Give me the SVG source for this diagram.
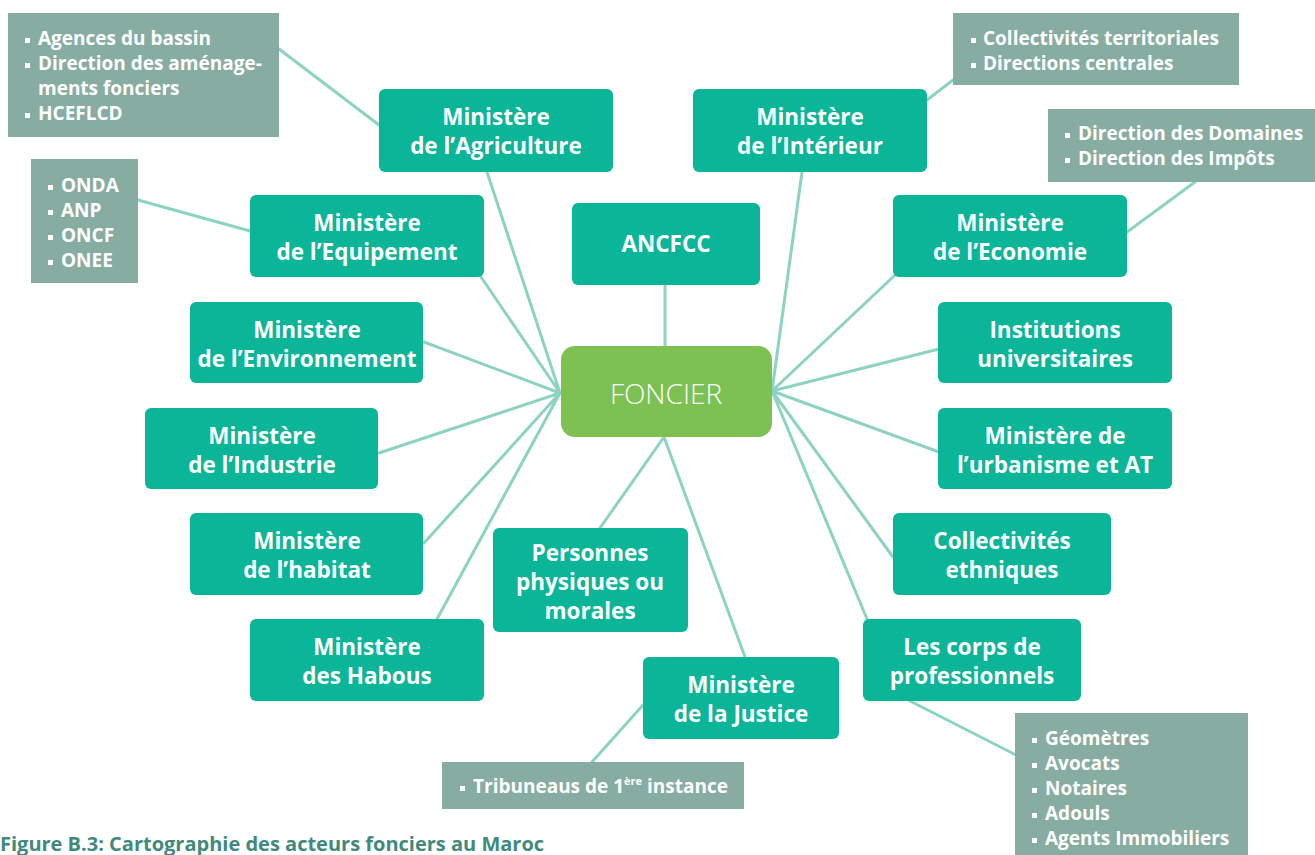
<svg xmlns="http://www.w3.org/2000/svg" width="1315" height="855" viewBox="0 0 1315 855">
<style>
.n{fill:#0ab598}
.g{fill:#87ada3}
.c{stroke:#8dd3c2;stroke-width:3;fill:none;stroke-linecap:round}
.t{font-family:"Open Sans","Liberation Sans",sans-serif;font-weight:bold;font-size:22.5px;fill:#fff;text-anchor:middle}
.l{font-family:"Open Sans","Liberation Sans",sans-serif;font-weight:bold;font-size:19px;fill:#fff}
.b{fill:#fff}
.cap{font-family:"Open Sans","Liberation Sans",sans-serif;font-weight:bold;font-size:20px;fill:#3f8a7d}
</style>
<rect width="1315" height="855" fill="#fff"/>
<g id="connectors">
<path class="c" d="M560 393L487 172M560 393L481 277M560 393L424 342M560 393L379 453M560 393L424 543M560 393L437 619"/>
<path class="c" d="M772 391L802 172M772 391L894 276M772 391L939 349M772 391L939 452M772 391L893 557M772 391L867 619"/>
<path class="c" d="M665 285L665 346M664 437L600 528M664 437L745 657"/>
<path class="c" d="M279 49L379 125M138 200L250 231M927 100L953 80M1127 232L1195 182M643 705L592 762M910 701L1016 755"/>
</g>
<g id="foncier"><rect x="561" y="346" width="211" height="91" rx="14" fill="#7dc153"/><text x="666" y="404" font-family="'Open Sans','Liberation Sans',sans-serif" font-weight="300" font-size="28" fill="#fff" text-anchor="middle">FONCIER</text></g>
<g id="agriculture"><rect class="n" x="379" y="89" width="234" height="83" rx="6"/><text class="t" x="496" y="125">Ministère</text><text class="t" x="496" y="154">de l’Agriculture</text></g>
<g id="interieur"><rect class="n" x="693" y="89" width="234" height="83" rx="6"/><text class="t" x="810" y="125">Ministère</text><text class="t" x="810" y="154">de l’Intérieur</text></g>
<g id="ancfcc"><rect class="n" x="572" y="203" width="188" height="82" rx="6"/><text class="t" x="666" y="252">ANCFCC</text></g>
<g id="equipement"><rect class="n" x="250" y="195" width="234" height="82" rx="6"/><text class="t" x="367" y="231">Ministère</text><text class="t" x="367" y="260">de l’Equipement</text></g>
<g id="economie"><rect class="n" x="893" y="195" width="234" height="82" rx="6"/><text class="t" x="1010" y="231">Ministère</text><text class="t" x="1010" y="260">de l’Economie</text></g>
<g id="environnement"><rect class="n" x="190" y="302" width="233" height="81" rx="6"/><text class="t" x="307" y="338">Ministère</text><text class="t" x="307" y="367">de l’Environnement</text></g>
<g id="institutions"><rect class="n" x="938" y="302" width="234" height="81" rx="6"/><text class="t" x="1055" y="338">Institutions</text><text class="t" x="1055" y="367">universitaires</text></g>
<g id="industrie"><rect class="n" x="145" y="408" width="233" height="81" rx="6"/><text class="t" x="262" y="444">Ministère</text><text class="t" x="262" y="473">de l’Industrie</text></g>
<g id="urbanisme"><rect class="n" x="938" y="408" width="234" height="81" rx="6"/><text class="t" x="1055" y="444">Ministère de</text><text class="t" x="1055" y="473">l’urbanisme et AT</text></g>
<g id="habitat"><rect class="n" x="190" y="513" width="233" height="82" rx="6"/><text class="t" x="307" y="549">Ministère</text><text class="t" x="307" y="578">de l’habitat</text></g>
<g id="collectivites"><rect class="n" x="893" y="513" width="218" height="82" rx="6"/><text class="t" x="1002" y="549">Collectivités</text><text class="t" x="1002" y="578">ethniques</text></g>
<g id="personnes"><rect class="n" x="493" y="528" width="195" height="104" rx="6"/><text class="t" x="590" y="561">Personnes</text><text class="t" x="590" y="590">physiques ou</text><text class="t" x="590" y="619">morales</text></g>
<g id="habous"><rect class="n" x="250" y="619" width="234" height="82" rx="6"/><text class="t" x="367" y="655">Ministère</text><text class="t" x="367" y="684">des Habous</text></g>
<g id="justice"><rect class="n" x="643" y="657" width="196" height="82" rx="6"/><text class="t" x="741" y="693">Ministère</text><text class="t" x="741" y="722">de la Justice</text></g>
<g id="corps"><rect class="n" x="863" y="619" width="218" height="82" rx="6"/><text class="t" x="972" y="655">Les corps de</text><text class="t" x="972" y="684">professionnels</text></g>
<g id="list-agriculture"><rect class="g" x="8" y="13" width="271" height="124"/>
<rect class="b" x="25" y="38" width="5" height="5"/><rect class="b" x="25" y="63" width="5" height="5"/><rect class="b" x="25" y="113" width="5" height="5"/>
<text class="l" x="38" y="45">Agences du bassin</text><text class="l" x="38" y="70">Direction des aménage-</text><text class="l" x="38" y="95">ments fonciers</text><text class="l" x="38" y="120">HCEFLCD</text></g>
<g id="list-equipement"><rect class="g" x="31" y="159" width="107" height="124"/>
<rect class="b" x="48" y="185" width="5" height="5"/><rect class="b" x="48" y="210" width="5" height="5"/><rect class="b" x="48" y="235" width="5" height="5"/><rect class="b" x="48" y="260" width="5" height="5"/>
<text class="l" x="61" y="192">ONDA</text><text class="l" x="61" y="217">ANP</text><text class="l" x="61" y="242">ONCF</text><text class="l" x="61" y="267">ONEE</text></g>
<g id="list-interieur"><rect class="g" x="953" y="13" width="286" height="72"/>
<rect class="b" x="971" y="38" width="5" height="5"/><rect class="b" x="971" y="63" width="5" height="5"/>
<text class="l" x="983" y="45">Collectivités territoriales</text><text class="l" x="983" y="70">Directions centrales</text></g>
<g id="list-economie"><rect class="g" x="1048" y="109" width="267" height="73"/>
<rect class="b" x="1065" y="133" width="5" height="5"/><rect class="b" x="1065" y="158" width="5" height="5"/>
<text class="l" x="1078" y="140">Direction des Domaines</text><text class="l" x="1078" y="165">Direction des Impôts</text></g>
<g id="list-justice"><rect class="g" x="442" y="762" width="302" height="47"/>
<rect class="b" x="460" y="786" width="5" height="5"/>
<text class="l" x="473" y="793">Tribuneaus de 1<tspan font-size="11" dy="-8">ère</tspan><tspan dy="8"> instance</tspan></text></g>
<g id="list-corps"><rect class="g" x="1015" y="713" width="233" height="142"/>
<rect class="b" x="1032" y="738" width="5" height="5"/><rect class="b" x="1032" y="763" width="5" height="5"/><rect class="b" x="1032" y="788" width="5" height="5"/><rect class="b" x="1032" y="813" width="5" height="5"/><rect class="b" x="1032" y="838" width="5" height="5"/>
<text class="l" x="1045" y="745">Géomètres</text><text class="l" x="1045" y="770">Avocats</text><text class="l" x="1045" y="795">Notaires</text><text class="l" x="1045" y="820">Adouls</text><text class="l" x="1045" y="845">Agents Immobiliers</text></g>
<text class="cap" x="0" y="851">Figure B.3: Cartographie des acteurs fonciers au Maroc</text>
</svg>
